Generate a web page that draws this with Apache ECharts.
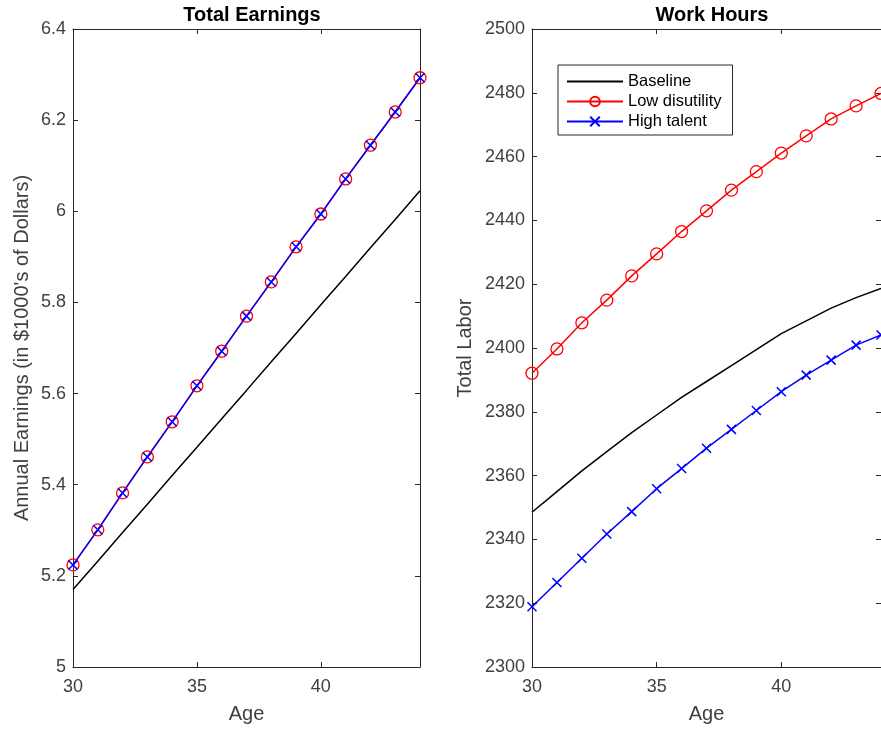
<!DOCTYPE html>
<html>
<head>
<meta charset="utf-8">
<script src="https://cdn.jsdelivr.net/npm/echarts@6/dist/echarts.min.js"></script>
<style>html,body{margin:0;padding:0;background:#fff}#c{width:881px;height:732px}</style>
</head>
<body>
<div id="c"></div>
<script>
const ages = [30,31,32,33,34,35,36,37,38,39,40,41,42,43,44];
const earnBaseline = [5.170,5.232,5.295,5.357,5.420,5.482,5.545,5.607,5.670,5.732,5.795,5.857,5.920,5.982,6.045];
const earnLowDisutility = [5.224,5.301,5.382,5.461,5.538,5.617,5.693,5.770,5.845,5.922,5.994,6.071,6.145,6.218,6.293];
const earnHighTalent = [5.224,5.301,5.382,5.461,5.538,5.617,5.693,5.770,5.845,5.922,5.994,6.071,6.145,6.218,6.293];
const laborBaseline = [2348.5,2355.0,2361.5,2367.5,2373.5,2379.0,2384.5,2389.5,2394.5,2399.5,2404.5,2408.5,2412.5,2415.8,2418.7];
const laborLowDisutility = [2392.1,2399.7,2407.9,2415.0,2422.6,2429.5,2436.5,2443.0,2449.5,2455.3,2461.1,2466.5,2471.8,2475.9,2479.8];
const laborHighTalent = [2318.9,2326.5,2334.1,2341.7,2348.7,2355.9,2362.2,2368.6,2374.5,2380.4,2386.3,2391.5,2396.2,2400.9,2404.1];
const seriesNames = ['Baseline','Low disutility','High talent'];

const axisColor = '#262626';
const labelColor = '#404040';
const font = 'Liberation Sans, Arial, Helvetica, sans-serif';
const pairs = (ys) => ages.map((a, i) => [a, ys[i]]);

function xAxes(gridIndex) {
  const common = {
    type: 'value', gridIndex, min: 30, max: 44, interval: 5,
    axisLine: {show: true, onZero: false, lineStyle: {color: axisColor, width: 1}},
    axisTick: {show: true, inside: true, length: 5, lineStyle: {color: axisColor}},
    splitLine: {show: false}
  };
  return [
    Object.assign({}, common, {
      position: 'bottom', name: 'Age', nameLocation: 'middle', nameGap: 37,
      nameTextStyle: {fontFamily: font, fontSize: 20, color: labelColor},
      axisLabel: {fontFamily: font, fontSize: 18, color: labelColor, margin: 11,
        formatter: v => (v % 5 === 0 ? String(v) : '')}
    }),
    Object.assign({}, common, {position: 'top', axisLabel: {show: false}})
  ];
}

function yAxes(gridIndex, min, max, interval, name, nameGap) {
  const common = {
    type: 'value', gridIndex, min, max, interval,
    axisLine: {show: true, onZero: false, lineStyle: {color: axisColor, width: 1}},
    axisTick: {show: true, inside: true, length: 5, lineStyle: {color: axisColor}},
    splitLine: {show: false}
  };
  return [
    Object.assign({}, common, {
      position: 'left', name, nameLocation: 'middle', nameGap,
      nameTextStyle: {fontFamily: font, fontSize: 20, color: labelColor},
      axisLabel: {fontFamily: font, fontSize: 18, color: labelColor, margin: 7,
        formatter: v => String(Math.round(v * 1000) / 1000)}
    }),
    Object.assign({}, common, {position: 'right', axisLabel: {show: false}})
  ];
}

const circleStyle = {color: 'rgba(0,0,0,0)', borderColor: '#ff0000', borderWidth: 1.3};
const crossStyle = {color: 'rgba(0,0,0,0)', borderColor: '#0000ff', borderWidth: 1.5};
const crossSymbol = 'path://M0,0L10,10M10,0L0,10';

function makeSeries(xi, yi, base, low, high) {
  return [
    {name: seriesNames[0], type: 'line', xAxisIndex: xi, yAxisIndex: yi, data: pairs(base),
      showSymbol: false, symbol: 'none', smooth: false, lineStyle: {color: '#000000', width: 1.5},
      itemStyle: {color: '#000000'}, animation: false},
    {name: seriesNames[1], type: 'line', xAxisIndex: xi, yAxisIndex: yi, data: pairs(low),
      symbol: 'circle', symbolSize: 12, lineStyle: {color: '#ff0000', width: 1.5},
      itemStyle: circleStyle, animation: false},
    {name: seriesNames[2], type: 'line', xAxisIndex: xi, yAxisIndex: yi, data: pairs(high),
      symbol: crossSymbol, symbolSize: 9, lineStyle: {color: '#0000ff', width: 1.5},
      itemStyle: crossStyle, animation: false}
  ];
}

const chart = echarts.init(document.getElementById('c'), null, {renderer: 'canvas'});
chart.setOption({
  backgroundColor: '#ffffff',
  animation: false,
  title: [
    {text: 'Total Earnings', left: 247, top: 0, textAlign: 'center',
      textStyle: {fontFamily: font, fontSize: 20, fontWeight: 'bold', color: '#000'}},
    {text: 'Work Hours', left: 707, top: 0, textAlign: 'center',
      textStyle: {fontFamily: font, fontSize: 20, fontWeight: 'bold', color: '#000'}}
  ],
  legend: {
    data: [
      {name: seriesNames[0], itemStyle: {opacity: 0}},
      {name: seriesNames[1]},
      {name: seriesNames[2]}
    ],
    orient: 'vertical', left: 558, top: 65,
    itemWidth: 56, itemHeight: 12, itemGap: 3,
    borderColor: '#262626', borderWidth: 1, padding: [8, 11, 5, 8],
    backgroundColor: '#ffffff',
    textStyle: {fontFamily: font, fontSize: 16.5, color: '#000', lineHeight: 15}
  },
  grid: [
    {left: 73, right: 461, top: 29, bottom: 65, containLabel: false, outerBoundsMode: 'none'},
    {left: 532, right: 0, top: 29, bottom: 65, containLabel: false, outerBoundsMode: 'none'}
  ],
  xAxis: [...xAxes(0), ...xAxes(1)],
  yAxis: [
    ...yAxes(0, 5, 6.4, 0.2, "Annual Earnings (in $1000's of Dollars)", 41),
    ...yAxes(1, 2300, 2500, 20, 'Total Labor', 57)
  ],
  series: [
    ...makeSeries(0, 0, earnBaseline, earnLowDisutility, earnHighTalent),
    ...makeSeries(2, 2, laborBaseline, laborLowDisutility, laborHighTalent)
  ]
});
</script>
</body>
</html>
